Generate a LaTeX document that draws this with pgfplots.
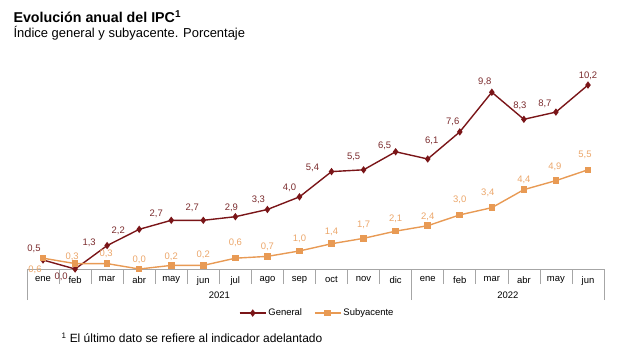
\documentclass[border=0pt]{standalone}
\usepackage{pgfplots}
\usepackage{pgfplotstable}
\pgfplotsset{compat=1.18}
\usepackage{fontspec}
\setmainfont{Liberation Sans}
\definecolor{gen}{HTML}{7A1518}
\definecolor{genlab}{HTML}{7A2A2C}
\definecolor{sub}{HTML}{E89A54}
\definecolor{sublab}{HTML}{EBA66A}
\definecolor{axgray}{HTML}{A6A6A6}
\pgfplotstableread{
x y dx dy
0 0.5 -9 11
1 0.0 -14 -8
2 1.3 -18 3
3 2.2 -21 -1
4 2.7 -15 7
5 2.7 -11 13
6 2.9 -4 9
7 3.3 -9 10
8 4.0 -10 9
9 5.4 -19 4
10 5.5 -10 13
11 6.5 -11 6
12 6.1 4 18
13 7.6 -7 10
14 9.8 -7 10
15 8.3 -4 13
16 8.7 -11 8
17 10.2 0 9
}\general
\pgfplotstableread{
x y dx dy
0 0.6 -8 -12
1 0.3 -3 7
2 0.3 -1 10
3 0.0 0 9
4 0.2 0 9
5 0.2 0 11
6 0.6 0 15
7 0.7 0 10
8 1.0 0 12
9 1.4 0 12
10 1.7 0 13
11 2.1 0 12
12 2.4 0 9
13 3.0 0 15
14 3.4 -4 15
15 4.4 0 10
16 4.9 -1 14
17 5.5 -3 15
}\subyacente
\begin{document}
\begin{tikzpicture}[x=1bp,y=1bp]
\begin{axis}[
  width=577bp, height=198.4bp, scale only axis,
  xmin=-0.5, xmax=17.5, ymin=0, ymax=11,
  clip=false,
  axis lines*=left,
  y axis line style={draw=none},
  x axis line style={draw=axgray, line width=0.8pt},
  ytick=\empty,
  xtick={0,...,17},
  xticklabels={ene,feb,mar,abr,may,jun,jul,ago,sep,oct,nov,dic,ene,feb,mar,abr,may,jun},
  major tick length=0pt,
  minor xtick={-0.5,0.5,...,17.5},
  minor tick length=15bp,
  tick align=outside,
  minor tick style={draw=axgray, line width=0.6pt},
  extra x ticks={-0.5,11.5,17.5},
  extra x tick labels={},
  extra x tick style={major tick length=31bp, tick style={draw=axgray, line width=0.6pt}},
  xticklabel style={font=\fontsize{9.5}{11}\selectfont, yshift=-4bp},
  /pgf/number format/assume math mode=true,
  nodes near coords,
  visualization depends on={\thisrow{dx} \as \dx},
  visualization depends on={\thisrow{dy} \as \dy},
  /pgf/number format/.cd, use comma, fixed, fixed zerofill, precision=1, /pgfplots/.cd,
  legend style={at={(0.503,-0.222)}, anchor=center, draw=none, legend columns=2,
    font=\fontsize{9.5}{11}\selectfont, /tikz/every even column/.append style={column sep=10bp}},
  legend cell align=left,
  legend image code/.code={\draw[mark repeat=2,mark phase=2, line width=1.4pt] plot coordinates {(0bp,0bp) (13bp,0bp) (26bp,0bp)};},
]
\coordinate (O) at (rel axis cs:0,0);
\addplot[gen, line width=1.4pt, mark=diamond*, mark size=2.6pt,
  nodes near coords style={font=\fontsize{9.5}{11}\selectfont, text=genlab, anchor=center, inner sep=0pt, xshift=\dx bp, yshift=\dy bp},
] table[x=x,y=y] {\general};
\addlegendentry{General}
\addplot[sub, line width=1.4pt, mark=square*, mark size=2.6pt,
  nodes near coords style={font=\fontsize{9.5}{11}\selectfont, text=sublab, anchor=center, inner sep=0pt, xshift=\dx bp, yshift=\dy bp},
] table[x=x,y=y] {\subyacente};
\addlegendentry{Subyacente}
\node[font=\fontsize{9.5}{11}\selectfont] at (axis cs:5.5,0) [yshift=-26bp] {2021};
\node[font=\fontsize{9.5}{11}\selectfont] at (axis cs:14.5,0) [yshift=-26bp] {2022};
\end{axis}
\pgfresetboundingbox
\path[use as bounding box] (O) ++(-27,-94) rectangle ++(635,363);
\node[anchor=west,font=\bfseries\fontsize{14.3}{16}\selectfont] at ([shift={(-17,252)}]O) {Evolución anual del IPC\textsuperscript{1}};
\node[anchor=west,font=\fontsize{13}{15}\selectfont] at ([shift={(-17,236)}]O) {Índice general y subyacente. Porcentaje};
\node[anchor=west,font=\fontsize{12}{14}\selectfont] at ([shift={(31,-69)}]O) {\textsuperscript{1} El último dato se refiere al indicador adelantado};
\end{tikzpicture}
\end{document}
